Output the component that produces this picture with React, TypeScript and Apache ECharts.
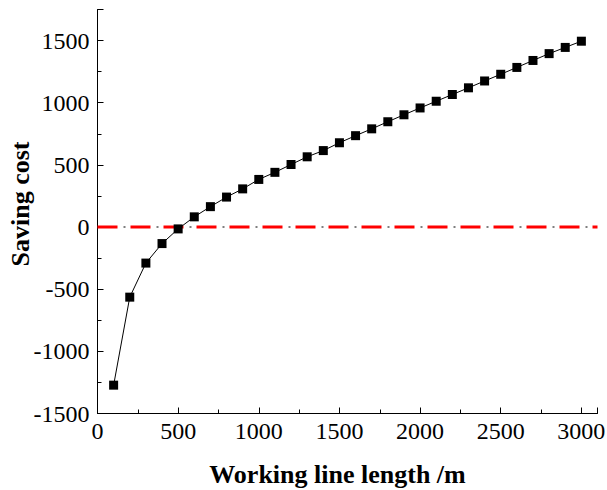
import React, { useEffect, useRef } from "react";
import * as echarts from "echarts";

const xValues = [100, 200, 300, 400, 500, 600, 700, 800, 900, 1000, 1100, 1200, 1300, 1400, 1500, 1600, 1700, 1800, 1900, 2000, 2100, 2200, 2300, 2400, 2500, 2600, 2700, 2800, 2900, 3000];
const savingCost = [-1272, -564, -290, -133, -15, 82, 164, 241, 307, 383, 440, 503, 565, 615, 678, 735, 790, 847, 903, 958, 1012, 1066, 1120, 1175, 1229, 1284, 1340, 1395, 1445, 1495];
const referenceLevel = 0;
const xRange = [0, 3100];
const yRange = [-1500, 1750];
const xTickLabels = [0, 500, 1000, 1500, 2000, 2500, 3000];
const yTickLabels = [-1500, -1000, -500, 0, 500, 1000, 1500];

export default function App() {
  const ref = useRef<HTMLDivElement>(null);
  useEffect(() => {
    if (!ref.current) return;
    const chart = echarts.init(ref.current, undefined, { renderer: "svg" });
    const font = "Liberation Serif";
    chart.setOption({
      animation: false,
      backgroundColor: "#ffffff",
      grid: { left: 97.5, right: 9.5, top: 9.5, bottom: 76.5, containLabel: false, outerBoundsMode: "none" },
      xAxis: {
        type: "value",
        min: xRange[0],
        max: xRange[1],
        interval: 500,
        name: "Working line length /m",
        nameLocation: "middle",
        nameGap: 48,
        nameTextStyle: { fontFamily: font, fontWeight: "bold", fontSize: 26, color: "#000", padding: [0, 20, 0, 0] },
        axisLine: { show: true, onZero: false, lineStyle: { color: "#000", width: 1 } },
        axisTick: { show: true, inside: true, length: 6, lineStyle: { color: "#000" } },
        minorTick: { show: true, splitNumber: 2, length: 4, lineStyle: { color: "#000" } },
        axisLabel: { show: false },
        splitLine: { show: false },
      },
      yAxis: {
        type: "value",
        min: yRange[0],
        max: yRange[1],
        interval: 500,
        name: "Saving cost",
        nameLocation: "middle",
        nameGap: 64,
        nameTextStyle: { fontFamily: font, fontWeight: "bold", fontSize: 26, color: "#000", padding: [0, 0, 0, 15] },
        axisLine: { show: true, onZero: false, lineStyle: { color: "#000", width: 1 } },
        axisTick: { show: true, inside: true, length: 6, lineStyle: { color: "#000" } },
        minorTick: { show: true, splitNumber: 2, length: 4, lineStyle: { color: "#000" } },
        axisLabel: { show: false },
        splitLine: { show: false },
      },
      series: [
        {
          type: "line",
          data: [[xRange[0], referenceLevel], [xRange[1], referenceLevel]],
          symbol: "none",
          lineStyle: { color: "#ff0000", width: 3, type: [20, 13] },
          z: 1,
        },
        {
          type: "line",
          data: [[xRange[0], referenceLevel], [xRange[1], referenceLevel]],
          symbol: "none",
          lineStyle: { color: "#555", width: 1.5, type: [2, 31], dashOffset: -26 },
          z: 1,
        },
        {
          type: "line",
          data: xValues.map((x, i) => [x, savingCost[i]]),
          symbol: "rect",
          symbolSize: 9,
          itemStyle: { color: "#000" },
          lineStyle: { color: "#000", width: 1 },
          z: 3,
        },
      ],
    });

    const origin = chart.convertToPixel({ gridIndex: 0 }, [xRange[0], yRange[0]]) as number[];
    const labels: any[] = [];
    xTickLabels.forEach((v) => {
      const p = chart.convertToPixel({ gridIndex: 0 }, [v, yRange[0]]) as number[];
      labels.push({
        type: "text",
        x: p[0],
        y: origin[1] + 5,
        style: { text: String(v), fontFamily: font, fontSize: 24, fill: "#000", align: "center", verticalAlign: "top" },
      });
    });
    yTickLabels.forEach((v) => {
      const p = chart.convertToPixel({ gridIndex: 0 }, [xRange[0], v]) as number[];
      labels.push({
        type: "text",
        x: origin[0] - 8,
        y: p[1],
        style: { text: String(v), fontFamily: font, fontSize: 24, fill: "#000", align: "right", verticalAlign: "middle" },
      });
    });
    chart.setOption({ graphic: labels });

    return () => chart.dispose();
  }, []);
  return <div ref={ref} style={{ width: 607, height: 490, position: "absolute", left: 0, top: 0 }} />;
}
